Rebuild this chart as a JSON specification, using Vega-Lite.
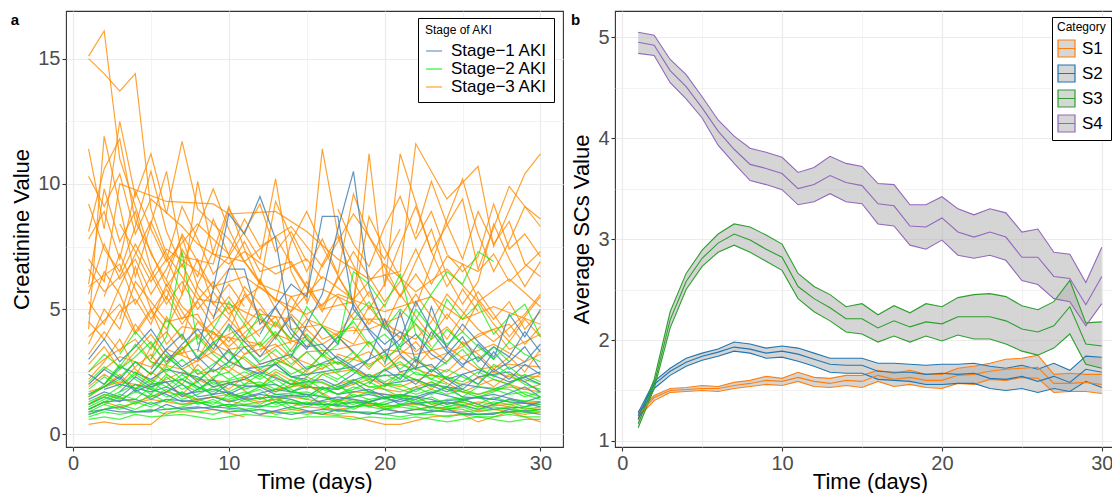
{
"$schema": "https://vega.github.io/schema/vega-lite/v6.json",
"padding": {"left": 10, "top": 10, "right": 0, "bottom": 0},
"config": {
 "font": "Liberation Sans",
 "view": {"stroke": "#333333", "strokeWidth": 1.1},
 "axis": {"domain": false, "labelFontSize": 20, "labelColor": "#4D4D4D", "titleFontSize": 22, "titleFontWeight": "normal", "titleColor": "#000000", "tickColor": "#333333", "tickSize": 4, "tickWidth": 1.1, "gridColor": "#EBEBEB", "labelPadding": 2, "titlePadding": 4},
 "axisX": {"titlePadding": -2}
},
"spacing": 6,
"resolve": {"scale": {"color": "independent"}, "legend": {"color": "independent"}},
"datasets": {
"s3": [
{"p":1,"t":1,"v":15.1},{"p":1,"t":2,"v":16.1},{"p":1,"t":3,"v":11.0},{"p":1,"t":5,"v":7.2},{"p":1,"t":7,"v":5.1},{"p":1,"t":9,"v":4.0},{"p":1,"t":12,"v":3.6},
{"p":2,"t":1,"v":15.0},{"p":2,"t":2,"v":14.4},{"p":2,"t":3,"v":13.7},{"p":2,"t":4,"v":14.4},{"p":2,"t":5,"v":9.0},{"p":2,"t":6,"v":7.2},{"p":2,"t":8,"v":5.4},{"p":2,"t":10,"v":5.2},{"p":2,"t":13,"v":4.3},
{"p":3,"t":1,"v":11.4},{"p":3,"t":2,"v":8.2},{"p":3,"t":3,"v":12.5},{"p":3,"t":4,"v":9.5},{"p":3,"t":5,"v":11.2},{"p":3,"t":6,"v":8.8},{"p":3,"t":7,"v":11.7},{"p":3,"t":8,"v":9.0},{"p":3,"t":10,"v":7.8},{"p":3,"t":12,"v":6.0},{"p":3,"t":14,"v":5.5},{"p":3,"t":16,"v":5.8},{"p":3,"t":18,"v":5.2},
{"p":4,"t":1,"v":4.2},{"p":4,"t":2,"v":11.9},{"p":4,"t":3,"v":9.1},{"p":4,"t":4,"v":6.3},{"p":4,"t":6,"v":10.5},{"p":4,"t":7,"v":7.1},{"p":4,"t":9,"v":6.8},{"p":4,"t":10,"v":9.0},{"p":4,"t":12,"v":7.0},{"p":4,"t":13,"v":10.2},{"p":4,"t":14,"v":6.5},{"p":4,"t":15,"v":5.3},{"p":4,"t":16,"v":11.4},{"p":4,"t":17,"v":8.0},{"p":4,"t":19,"v":5.5},
{"p":5,"t":1,"v":7.0},{"p":5,"t":2,"v":6.1},{"p":5,"t":3,"v":10.0},{"p":5,"t":6,"v":9.3},{"p":5,"t":9,"v":9.2},{"p":5,"t":10,"v":8.8},{"p":5,"t":13,"v":8.9},{"p":5,"t":15,"v":8.1},{"p":5,"t":17,"v":7.0},{"p":5,"t":19,"v":6.2},{"p":5,"t":21,"v":6.5},{"p":5,"t":22,"v":11.6},{"p":5,"t":24,"v":9.4},{"p":5,"t":26,"v":10.7},{"p":5,"t":27,"v":7.5},{"p":5,"t":29,"v":10.4},{"p":5,"t":30,"v":11.2},
{"p":6,"t":1,"v":5.3},{"p":6,"t":2,"v":4.4},{"p":6,"t":3,"v":5.9},{"p":6,"t":4,"v":7.2},{"p":6,"t":5,"v":8.5},{"p":6,"t":7,"v":5.6},{"p":6,"t":8,"v":10.1},{"p":6,"t":9,"v":7.2},{"p":6,"t":11,"v":6.9},{"p":6,"t":13,"v":5.3},{"p":6,"t":14,"v":7.7},{"p":6,"t":15,"v":8.9},{"p":6,"t":16,"v":7.5},{"p":6,"t":18,"v":5.2},{"p":6,"t":19,"v":11.2},{"p":6,"t":20,"v":5.9},{"p":6,"t":21,"v":11.2},{"p":6,"t":23,"v":7.3},{"p":6,"t":25,"v":9.4},{"p":6,"t":26,"v":6.6},{"p":6,"t":28,"v":9.9},{"p":6,"t":30,"v":8.3},
{"p":7,"t":1,"v":3.6},{"p":7,"t":2,"v":5.0},{"p":7,"t":3,"v":4.2},{"p":7,"t":4,"v":6.1},{"p":7,"t":5,"v":5.3},{"p":7,"t":6,"v":4.5},{"p":7,"t":8,"v":4.8},{"p":7,"t":9,"v":3.7},{"p":7,"t":11,"v":4.3},{"p":7,"t":12,"v":5.0},{"p":7,"t":14,"v":3.8},{"p":7,"t":15,"v":4.6},{"p":7,"t":17,"v":4.1},{"p":7,"t":19,"v":4.2},{"p":7,"t":21,"v":4.7},{"p":7,"t":22,"v":5.6},{"p":7,"t":24,"v":3.8},{"p":7,"t":26,"v":5.7},{"p":7,"t":28,"v":3.9},{"p":7,"t":30,"v":5.5},
{"p":8,"t":1,"v":2.8},{"p":8,"t":2,"v":3.5},{"p":8,"t":3,"v":2.6},{"p":8,"t":4,"v":3.3},{"p":8,"t":5,"v":4.0},{"p":8,"t":6,"v":3.1},{"p":8,"t":8,"v":3.4},{"p":8,"t":10,"v":2.5},{"p":8,"t":11,"v":3.2},{"p":8,"t":13,"v":3.6},{"p":8,"t":15,"v":2.5},{"p":8,"t":17,"v":3.9},{"p":8,"t":19,"v":2.6},{"p":8,"t":20,"v":3.4},{"p":8,"t":22,"v":3.2},{"p":8,"t":24,"v":3.5},{"p":8,"t":26,"v":2.6},{"p":8,"t":28,"v":2.8},{"p":8,"t":30,"v":2.7},
{"p":9,"t":1,"v":0.4},{"p":9,"t":2,"v":0.5},{"p":9,"t":3,"v":0.4},{"p":9,"t":5,"v":0.4},{"p":9,"t":6,"v":0.9},{"p":9,"t":8,"v":0.9},{"p":9,"t":9,"v":1.0},{"p":9,"t":11,"v":0.7},
{"p":10,"t":12,"v":0.8},{"p":10,"t":14,"v":1.0},{"p":10,"t":16,"v":0.8},{"p":10,"t":18,"v":0.7},{"p":10,"t":20,"v":0.4},{"p":10,"t":21,"v":0.4},{"p":10,"t":23,"v":0.7},{"p":10,"t":25,"v":0.8},{"p":10,"t":26,"v":0.5},{"p":10,"t":28,"v":0.9},{"p":10,"t":30,"v":0.5},
{"p":11,"t":1,"v":9.2},{"p":11,"t":2,"v":7.4},{"p":11,"t":3,"v":6.5},{"p":11,"t":4,"v":8.3},{"p":11,"t":5,"v":10.5},{"p":11,"t":6,"v":8.1},{"p":11,"t":7,"v":6.7},{"p":11,"t":9,"v":9.8},{"p":11,"t":10,"v":8.2},{"p":11,"t":11,"v":6.9},{"p":11,"t":13,"v":7.9},{"p":11,"t":14,"v":6.8},{"p":11,"t":16,"v":4.9},{"p":11,"t":17,"v":6.3},{"p":11,"t":19,"v":4.4},{"p":11,"t":20,"v":5.2},
{"p":12,"t":1,"v":6.0},{"p":12,"t":2,"v":9.8},{"p":12,"t":3,"v":7.7},{"p":12,"t":4,"v":8.9},{"p":12,"t":5,"v":6.6},{"p":12,"t":6,"v":5.4},{"p":12,"t":7,"v":7.4},{"p":12,"t":8,"v":6.3},{"p":12,"t":9,"v":8.6},{"p":12,"t":11,"v":5.7},{"p":12,"t":12,"v":4.8},{"p":12,"t":14,"v":4.6},{"p":12,"t":15,"v":3.9},
{"p":13,"t":5,"v":3.0},{"p":13,"t":6,"v":4.7},{"p":13,"t":7,"v":3.8},{"p":13,"t":8,"v":6.0},{"p":13,"t":9,"v":7.3},{"p":13,"t":10,"v":9.1},{"p":13,"t":11,"v":7.4},{"p":13,"t":12,"v":6.0},{"p":13,"t":13,"v":9.3},{"p":13,"t":15,"v":6.5},{"p":13,"t":16,"v":7.8},{"p":13,"t":17,"v":6.4},{"p":13,"t":18,"v":9.6},{"p":13,"t":19,"v":7.9},{"p":13,"t":21,"v":5.5},{"p":13,"t":22,"v":6.4},{"p":13,"t":24,"v":4.6},{"p":13,"t":25,"v":5.8},{"p":13,"t":26,"v":4.9},
{"p":14,"t":10,"v":4.1},{"p":14,"t":11,"v":5.6},{"p":14,"t":13,"v":3.8},{"p":14,"t":15,"v":6.1},{"p":14,"t":16,"v":5.0},{"p":14,"t":18,"v":5.3},{"p":14,"t":19,"v":8.7},{"p":14,"t":20,"v":7.4},{"p":14,"t":22,"v":5.1},{"p":14,"t":23,"v":6.8},{"p":14,"t":24,"v":8.6},{"p":14,"t":25,"v":10.2},{"p":14,"t":26,"v":8.0},{"p":14,"t":27,"v":6.5},{"p":14,"t":28,"v":7.7},{"p":14,"t":29,"v":9.1},{"p":14,"t":30,"v":8.6},
{"p":15,"t":1,"v":2.2},{"p":15,"t":2,"v":2.9},{"p":15,"t":3,"v":3.8},{"p":15,"t":4,"v":2.6},{"p":15,"t":5,"v":2.1},{"p":15,"t":7,"v":3.5},{"p":15,"t":8,"v":2.4},{"p":15,"t":10,"v":2.7},{"p":15,"t":12,"v":1.9},{"p":15,"t":13,"v":2.5},{"p":15,"t":15,"v":1.8},{"p":15,"t":16,"v":2.4},{"p":15,"t":18,"v":2.6},{"p":15,"t":20,"v":1.9},{"p":15,"t":21,"v":2.5},{"p":15,"t":23,"v":1.8},{"p":15,"t":24,"v":2.3},{"p":15,"t":25,"v":2.7},{"p":15,"t":27,"v":1.9},{"p":15,"t":28,"v":2.4},{"p":15,"t":30,"v":2.3},
{"p":16,"t":1,"v":4.8},{"p":16,"t":2,"v":6.5},{"p":16,"t":3,"v":5.6},{"p":16,"t":4,"v":4.1},{"p":16,"t":5,"v":5.0},{"p":16,"t":6,"v":3.6},{"p":16,"t":7,"v":4.3},{"p":16,"t":9,"v":4.1},{"p":16,"t":10,"v":3.4},{"p":16,"t":12,"v":3.6},{"p":16,"t":14,"v":2.7},{"p":16,"t":15,"v":3.3},{"p":16,"t":17,"v":3.4},{"p":16,"t":19,"v":3.7},{"p":16,"t":20,"v":3.0},
{"p":17,"t":15,"v":5.2},{"p":17,"t":16,"v":6.8},{"p":17,"t":17,"v":7.9},{"p":17,"t":18,"v":6.1},{"p":17,"t":19,"v":5.0},{"p":17,"t":20,"v":6.0},{"p":17,"t":21,"v":7.6},{"p":17,"t":22,"v":9.1},{"p":17,"t":23,"v":7.3},{"p":17,"t":24,"v":5.9},{"p":17,"t":25,"v":6.8},{"p":17,"t":26,"v":5.4},{"p":17,"t":27,"v":4.6},{"p":17,"t":28,"v":5.3},{"p":17,"t":29,"v":4.2},{"p":17,"t":30,"v":4.9},
{"p":18,"t":1,"v":8.1},{"p":18,"t":2,"v":10.6},{"p":18,"t":3,"v":11.8},{"p":18,"t":4,"v":8.5},{"p":18,"t":5,"v":7.3},{"p":18,"t":6,"v":5.9},{"p":18,"t":7,"v":6.8},{"p":18,"t":8,"v":5.6},{"p":18,"t":9,"v":4.7},{"p":18,"t":10,"v":5.5},{"p":18,"t":11,"v":4.6},{"p":18,"t":12,"v":3.9},
{"p":19,"t":18,"v":4.0},{"p":19,"t":19,"v":5.1},{"p":19,"t":20,"v":4.3},{"p":19,"t":21,"v":5.6},{"p":19,"t":22,"v":4.7},{"p":19,"t":23,"v":3.9},{"p":19,"t":24,"v":4.8},{"p":19,"t":25,"v":4.1},{"p":19,"t":26,"v":5.3},{"p":19,"t":27,"v":4.4},{"p":19,"t":28,"v":3.7},{"p":19,"t":29,"v":4.6},{"p":19,"t":30,"v":3.9},
{"p":20,"t":1,"v":1.5},{"p":20,"t":2,"v":1.9},{"p":20,"t":3,"v":2.4},{"p":20,"t":4,"v":1.8},{"p":20,"t":5,"v":2.5},{"p":20,"t":7,"v":1.6},{"p":20,"t":8,"v":2.2},{"p":20,"t":10,"v":2.1},{"p":20,"t":12,"v":1.4},{"p":20,"t":13,"v":1.8},{"p":20,"t":15,"v":2.0},{"p":20,"t":17,"v":1.3},{"p":20,"t":18,"v":1.7},{"p":20,"t":20,"v":1.6},{"p":20,"t":22,"v":1.5},{"p":20,"t":23,"v":1.2},{"p":20,"t":25,"v":1.3},{"p":20,"t":26,"v":1.1},{"p":20,"t":28,"v":1.2},{"p":20,"t":30,"v":1.3},
{"p":21,"t":2,"v":5.5},{"p":21,"t":3,"v":7.2},{"p":21,"t":4,"v":5.8},{"p":21,"t":5,"v":4.6},{"p":21,"t":6,"v":5.5},{"p":21,"t":7,"v":4.4},{"p":21,"t":8,"v":5.3},{"p":21,"t":9,"v":4.3},{"p":21,"t":10,"v":3.7},{"p":21,"t":11,"v":4.4},{"p":21,"t":12,"v":6.2},{"p":21,"t":13,"v":5.0},{"p":21,"t":14,"v":4.2},{"p":21,"t":16,"v":4.4},{"p":21,"t":17,"v":5.5},{"p":21,"t":18,"v":4.6},{"p":21,"t":20,"v":4.6},{"p":21,"t":21,"v":3.8},{"p":21,"t":22,"v":4.4},{"p":21,"t":23,"v":3.5},
{"p":22,"t":20,"v":2.5},{"p":22,"t":21,"v":3.1},{"p":22,"t":22,"v":2.7},{"p":22,"t":23,"v":3.4},{"p":22,"t":24,"v":2.9},{"p":22,"t":25,"v":3.7},{"p":22,"t":26,"v":3.2},{"p":22,"t":27,"v":2.6},{"p":22,"t":28,"v":3.1},{"p":22,"t":29,"v":2.5},{"p":22,"t":30,"v":3.4},
{"p":23,"t":6,"v":6.2},{"p":23,"t":7,"v":8.0},{"p":23,"t":8,"v":6.9},{"p":23,"t":9,"v":5.8},{"p":23,"t":10,"v":6.6},{"p":23,"t":11,"v":7.7},{"p":23,"t":12,"v":6.5},{"p":23,"t":14,"v":6.9},{"p":23,"t":15,"v":5.9},{"p":23,"t":16,"v":5.1},{"p":23,"t":17,"v":6.2},{"p":23,"t":18,"v":7.3},{"p":23,"t":20,"v":5.3},{"p":23,"t":21,"v":6.1},{"p":23,"t":22,"v":7.4},{"p":23,"t":23,"v":6.0},{"p":23,"t":24,"v":7.1},{"p":23,"t":26,"v":6.5},{"p":23,"t":27,"v":7.2},{"p":23,"t":28,"v":6.1},{"p":23,"t":30,"v":7.3},
{"p":24,"t":1,"v":3.2},{"p":24,"t":2,"v":4.1},{"p":24,"t":3,"v":3.3},{"p":24,"t":4,"v":4.4},{"p":24,"t":5,"v":3.6},{"p":24,"t":6,"v":2.9},{"p":24,"t":7,"v":3.4},{"p":24,"t":8,"v":4.0},{"p":24,"t":9,"v":3.3},{"p":24,"t":10,"v":3.9},{"p":24,"t":11,"v":3.2},{"p":24,"t":12,"v":3.7},{"p":24,"t":13,"v":2.8},{"p":24,"t":14,"v":3.4},{"p":24,"t":15,"v":4.2},
{"p":25,"t":22,"v":8.0},{"p":25,"t":23,"v":10.1},{"p":25,"t":24,"v":8.4},{"p":25,"t":25,"v":7.0},{"p":25,"t":26,"v":8.9},{"p":25,"t":27,"v":7.6},{"p":25,"t":28,"v":8.5},{"p":25,"t":29,"v":6.8},{"p":25,"t":30,"v":6.3},
{"p":26,"t":1,"v":5.9},{"p":26,"t":3,"v":6.8},{"p":26,"t":4,"v":5.2},{"p":26,"t":6,"v":7.4},{"p":26,"t":8,"v":6.5},{"p":26,"t":9,"v":5.9},{"p":26,"t":11,"v":6.3},{"p":26,"t":13,"v":5.4},{"p":26,"t":15,"v":4.8},{"p":26,"t":17,"v":5.6},{"p":26,"t":20,"v":4.9},{"p":26,"t":23,"v":5.5},{"p":26,"t":25,"v":4.6},{"p":26,"t":27,"v":5.1},{"p":26,"t":30,"v":4.4},
{"p":27,"t":1,"v":2.5},{"p":27,"t":2,"v":3.0},{"p":27,"t":4,"v":3.8},{"p":27,"t":5,"v":2.9},{"p":27,"t":7,"v":2.6},{"p":27,"t":9,"v":3.3},{"p":27,"t":11,"v":2.6},{"p":27,"t":13,"v":3.0},{"p":27,"t":15,"v":2.4},{"p":27,"t":17,"v":2.9},{"p":27,"t":19,"v":2.3},{"p":27,"t":21,"v":2.8},{"p":27,"t":23,"v":2.4},{"p":27,"t":25,"v":2.0},{"p":27,"t":27,"v":2.5},{"p":27,"t":29,"v":2.1},{"p":27,"t":30,"v":2.4},
{"p":28,"t":1,"v":1.0},{"p":28,"t":2,"v":1.3},{"p":28,"t":3,"v":1.1},{"p":28,"t":5,"v":1.4},{"p":28,"t":7,"v":1.2},{"p":28,"t":9,"v":1.5},{"p":28,"t":11,"v":1.2},{"p":28,"t":13,"v":1.4},{"p":28,"t":15,"v":1.1},{"p":28,"t":17,"v":1.0},{"p":28,"t":19,"v":1.2},{"p":28,"t":21,"v":0.9},{"p":28,"t":23,"v":1.1},{"p":28,"t":25,"v":0.9},{"p":28,"t":27,"v":1.0},{"p":28,"t":29,"v":0.8},{"p":28,"t":30,"v":0.9},
{"p":29,"t":3,"v":4.6},{"p":29,"t":4,"v":6.7},{"p":29,"t":5,"v":5.0},{"p":29,"t":6,"v":4.2},{"p":29,"t":7,"v":5.6},{"p":29,"t":8,"v":7.0},{"p":29,"t":9,"v":5.2},{"p":29,"t":10,"v":4.6},{"p":29,"t":11,"v":5.9},{"p":29,"t":12,"v":5.2},{"p":29,"t":13,"v":4.3},{"p":29,"t":14,"v":5.5},{"p":29,"t":16,"v":3.8},{"p":29,"t":18,"v":4.3},{"p":29,"t":19,"v":3.5},
{"p":30,"t":8,"v":3.0},{"p":30,"t":9,"v":4.1},{"p":30,"t":10,"v":3.5},{"p":30,"t":12,"v":4.6},{"p":30,"t":13,"v":3.9},{"p":30,"t":14,"v":4.8},{"p":30,"t":16,"v":3.6},{"p":30,"t":17,"v":4.0},{"p":30,"t":19,"v":5.7},{"p":30,"t":20,"v":4.4},{"p":30,"t":22,"v":3.8},{"p":30,"t":23,"v":4.5},{"p":30,"t":24,"v":5.6},{"p":30,"t":26,"v":4.2},{"p":30,"t":27,"v":3.7},{"p":30,"t":29,"v":4.8},{"p":30,"t":30,"v":5.6},
{"p":31,"t":1,"v":6.6},{"p":31,"t":2,"v":5.7},{"p":31,"t":3,"v":6.3},{"p":31,"t":4,"v":7.6},{"p":31,"t":5,"v":6.4},{"p":31,"t":6,"v":5.2},{"p":31,"t":7,"v":6.1},{"p":31,"t":8,"v":5.0},{"p":31,"t":9,"v":5.7},{"p":31,"t":10,"v":4.8},{"p":31,"t":11,"v":5.4},
{"p":32,"t":1,"v":1.9},{"p":32,"t":2,"v":2.4},{"p":32,"t":3,"v":2.0},{"p":32,"t":4,"v":2.7},{"p":32,"t":5,"v":3.2},{"p":32,"t":6,"v":2.4},{"p":32,"t":7,"v":2.0},{"p":32,"t":8,"v":2.8},{"p":32,"t":9,"v":2.2},{"p":32,"t":10,"v":1.8},{"p":32,"t":11,"v":2.3},{"p":32,"t":12,"v":2.6},{"p":32,"t":14,"v":2.0},{"p":32,"t":16,"v":1.8},{"p":32,"t":18,"v":2.2},{"p":32,"t":19,"v":1.9},{"p":32,"t":21,"v":1.7},{"p":32,"t":23,"v":2.1},{"p":32,"t":24,"v":1.8},{"p":32,"t":26,"v":1.6},{"p":32,"t":28,"v":1.9},{"p":32,"t":30,"v":1.7},
{"p":33,"t":1,"v":3.9},{"p":33,"t":3,"v":5.2},{"p":33,"t":4,"v":4.0},{"p":33,"t":6,"v":5.8},{"p":33,"t":7,"v":4.6},{"p":33,"t":9,"v":6.1},{"p":33,"t":10,"v":5.0},{"p":33,"t":12,"v":5.9},{"p":33,"t":14,"v":4.9},{"p":33,"t":16,"v":6.3},{"p":33,"t":18,"v":5.4},{"p":33,"t":20,"v":6.8},{"p":33,"t":22,"v":5.7},{"p":33,"t":24,"v":6.6},{"p":33,"t":26,"v":5.3},{"p":33,"t":28,"v":6.2},{"p":33,"t":30,"v":5.1},
{"p":34,"t":1,"v":7.8},{"p":34,"t":2,"v":8.9},{"p":34,"t":3,"v":7.0},{"p":34,"t":4,"v":9.7},{"p":34,"t":5,"v":8.2},{"p":34,"t":6,"v":6.9},{"p":34,"t":8,"v":8.4},{"p":34,"t":10,"v":7.2},{"p":34,"t":11,"v":8.6},{"p":34,"t":12,"v":7.5},{"p":34,"t":14,"v":8.3},{"p":34,"t":16,"v":6.7},{"p":34,"t":17,"v":7.7},{"p":34,"t":18,"v":8.8},{"p":34,"t":20,"v":7.0},{"p":34,"t":21,"v":8.2},
{"p":35,"t":1,"v":4.5},{"p":35,"t":2,"v":3.8},{"p":35,"t":3,"v":4.9},{"p":35,"t":4,"v":5.4},{"p":35,"t":5,"v":4.4},{"p":35,"t":6,"v":6.0},{"p":35,"t":7,"v":4.9},{"p":35,"t":8,"v":3.9},{"p":35,"t":9,"v":4.5},{"p":35,"t":10,"v":5.1},{"p":35,"t":11,"v":3.8},{"p":35,"t":12,"v":4.2},{"p":35,"t":13,"v":4.7},{"p":35,"t":14,"v":3.6},
{"p":36,"t":12,"v":3.3},{"p":36,"t":13,"v":4.0},{"p":36,"t":15,"v":3.5},{"p":36,"t":16,"v":4.3},{"p":36,"t":18,"v":3.6},{"p":36,"t":19,"v":4.6},{"p":36,"t":21,"v":3.9},{"p":36,"t":22,"v":3.3},{"p":36,"t":24,"v":4.3},{"p":36,"t":25,"v":3.6},{"p":36,"t":27,"v":4.2},{"p":36,"t":28,"v":3.4},{"p":36,"t":30,"v":4.0},
{"p":37,"t":1,"v":10.3},{"p":37,"t":2,"v":9.1},{"p":37,"t":3,"v":10.4},{"p":37,"t":4,"v":8.0},{"p":37,"t":5,"v":9.4},{"p":37,"t":7,"v":8.3},{"p":37,"t":8,"v":7.6},{"p":37,"t":10,"v":6.8},{"p":37,"t":11,"v":7.3},{"p":37,"t":13,"v":6.4},{"p":37,"t":15,"v":7.0},{"p":37,"t":16,"v":6.2},
{"p":38,"t":1,"v":2.0},{"p":38,"t":2,"v":2.6},{"p":38,"t":3,"v":3.1},{"p":38,"t":5,"v":2.7},{"p":38,"t":6,"v":3.4},{"p":38,"t":8,"v":2.9},{"p":38,"t":9,"v":3.6},{"p":38,"t":11,"v":3.0},{"p":38,"t":12,"v":2.5},{"p":38,"t":14,"v":3.1},{"p":38,"t":16,"v":2.6},{"p":38,"t":17,"v":3.2},{"p":38,"t":19,"v":2.8},{"p":38,"t":21,"v":3.4},{"p":38,"t":22,"v":2.9},{"p":38,"t":24,"v":2.5},{"p":38,"t":25,"v":3.1},{"p":38,"t":27,"v":3.6},{"p":38,"t":29,"v":2.9},{"p":38,"t":30,"v":3.2},
{"p":39,"t":20,"v":6.4},{"p":39,"t":21,"v":5.5},{"p":39,"t":22,"v":6.9},{"p":39,"t":23,"v":8.2},{"p":39,"t":24,"v":6.3},{"p":39,"t":25,"v":5.2},{"p":39,"t":26,"v":6.1},{"p":39,"t":27,"v":8.4},{"p":39,"t":28,"v":7.0},{"p":39,"t":29,"v":5.9},{"p":39,"t":30,"v":6.9},
{"p":40,"t":1,"v":1.2},{"p":40,"t":2,"v":1.6},{"p":40,"t":4,"v":1.3},{"p":40,"t":6,"v":1.7},{"p":40,"t":8,"v":1.4},{"p":40,"t":10,"v":1.6},{"p":40,"t":12,"v":1.3},{"p":40,"t":14,"v":1.5},{"p":40,"t":16,"v":1.3},{"p":40,"t":18,"v":1.4},{"p":40,"t":20,"v":1.1},{"p":40,"t":22,"v":1.2},{"p":40,"t":24,"v":1.0},{"p":40,"t":26,"v":1.3},{"p":40,"t":28,"v":1.1},{"p":40,"t":30,"v":1.0},
{"p":41,"t":3,"v":8.4},{"p":41,"t":4,"v":7.3},{"p":41,"t":5,"v":6.1},{"p":41,"t":6,"v":7.0},{"p":41,"t":7,"v":9.1},{"p":41,"t":8,"v":7.8},{"p":41,"t":9,"v":6.4},{"p":41,"t":10,"v":7.1},{"p":41,"t":11,"v":8.1},{"p":41,"t":12,"v":9.2},{"p":41,"t":13,"v":7.3},{"p":41,"t":14,"v":8.1},{"p":41,"t":15,"v":6.9},
{"p":42,"t":4,"v":2.3},{"p":42,"t":5,"v":3.5},{"p":42,"t":6,"v":4.1},{"p":42,"t":7,"v":3.2},{"p":42,"t":8,"v":4.5},{"p":42,"t":9,"v":3.8},{"p":42,"t":10,"v":4.6},{"p":42,"t":11,"v":3.9},{"p":42,"t":12,"v":3.1},{"p":42,"t":13,"v":3.5},{"p":42,"t":15,"v":3.9},{"p":42,"t":16,"v":3.2},{"p":42,"t":17,"v":2.8},{"p":42,"t":19,"v":3.3},{"p":42,"t":20,"v":2.7},{"p":42,"t":22,"v":3.7},{"p":42,"t":23,"v":3.0},{"p":42,"t":25,"v":3.5},{"p":42,"t":26,"v":4.0},{"p":42,"t":28,"v":4.4},{"p":42,"t":29,"v":3.6},{"p":42,"t":30,"v":4.3},
{"p":43,"t":1,"v":5.6},{"p":43,"t":2,"v":7.6},{"p":43,"t":3,"v":6.2},{"p":43,"t":4,"v":7.0},{"p":43,"t":5,"v":5.6},{"p":43,"t":6,"v":6.6},{"p":43,"t":7,"v":7.9},{"p":43,"t":8,"v":5.9},{"p":43,"t":9,"v":5.2},{"p":43,"t":10,"v":6.0},{"p":43,"t":11,"v":5.1},
{"p":44,"t":17,"v":9.0},{"p":44,"t":18,"v":7.6},{"p":44,"t":19,"v":6.7},{"p":44,"t":20,"v":8.3},{"p":44,"t":21,"v":9.5},{"p":44,"t":22,"v":7.8},{"p":44,"t":23,"v":8.9},{"p":44,"t":24,"v":7.2},{"p":44,"t":25,"v":6.5},{"p":44,"t":26,"v":7.1},{"p":44,"t":27,"v":9.2},{"p":44,"t":28,"v":7.4},{"p":44,"t":29,"v":8.0},{"p":44,"t":30,"v":7.1},
{"p":45,"t":1,"v":1.7},{"p":45,"t":3,"v":2.1},{"p":45,"t":5,"v":1.9},{"p":45,"t":7,"v":2.5},{"p":45,"t":9,"v":1.9},{"p":45,"t":11,"v":2.2},{"p":45,"t":13,"v":1.7},{"p":45,"t":15,"v":2.3},{"p":45,"t":17,"v":1.8},{"p":45,"t":19,"v":2.2},{"p":45,"t":21,"v":1.9},{"p":45,"t":23,"v":2.4},{"p":45,"t":25,"v":1.7},{"p":45,"t":27,"v":2.2},{"p":45,"t":29,"v":1.8},{"p":45,"t":30,"v":2.0}
],
"s1": [
{"p":1,"t":1,"v":1.2},{"p":1,"t":2,"v":1.5},{"p":1,"t":3,"v":1.3},{"p":1,"t":4,"v":1.8},{"p":1,"t":5,"v":1.4},{"p":1,"t":7,"v":2.0},{"p":1,"t":8,"v":1.5},{"p":1,"t":10,"v":1.7},{"p":1,"t":11,"v":1.4},{"p":1,"t":13,"v":1.5},{"p":1,"t":15,"v":1.6},{"p":1,"t":16,"v":1.2},{"p":1,"t":18,"v":1.1},{"p":1,"t":20,"v":1.5},{"p":1,"t":21,"v":1.2},{"p":1,"t":23,"v":1.3},{"p":1,"t":25,"v":1.4},{"p":1,"t":27,"v":1.0},{"p":1,"t":29,"v":1.1},{"p":1,"t":30,"v":1.3},
{"p":2,"t":1,"v":2.0},{"p":2,"t":2,"v":2.6},{"p":2,"t":3,"v":2.2},{"p":2,"t":4,"v":2.9},{"p":2,"t":5,"v":2.4},{"p":2,"t":6,"v":3.1},{"p":2,"t":8,"v":2.1},{"p":2,"t":9,"v":2.7},{"p":2,"t":10,"v":3.4},{"p":2,"t":11,"v":2.6},{"p":2,"t":13,"v":2.8},{"p":2,"t":14,"v":2.3},{"p":2,"t":16,"v":2.5},{"p":2,"t":18,"v":2.7},{"p":2,"t":19,"v":2.3},{"p":2,"t":21,"v":2.4},{"p":2,"t":22,"v":2.0},{"p":2,"t":23,"v":2.6},{"p":2,"t":25,"v":1.8},{"p":2,"t":26,"v":2.3},{"p":2,"t":28,"v":2.5},{"p":2,"t":30,"v":1.7},
{"p":3,"t":8,"v":3.3},{"p":3,"t":9,"v":5.8},{"p":3,"t":10,"v":8.8},{"p":3,"t":11,"v":8.0},{"p":3,"t":12,"v":9.5},{"p":3,"t":13,"v":7.8},{"p":3,"t":14,"v":4.2},{"p":3,"t":15,"v":3.5},{"p":3,"t":16,"v":3.6},{"p":3,"t":17,"v":3.0},{"p":3,"t":18,"v":2.6},
{"p":4,"t":12,"v":4.0},{"p":4,"t":13,"v":5.1},{"p":4,"t":14,"v":6.0},{"p":4,"t":15,"v":5.5},{"p":4,"t":16,"v":8.7},{"p":4,"t":17,"v":8.7},{"p":4,"t":18,"v":5.0},{"p":4,"t":19,"v":4.2},{"p":4,"t":20,"v":3.6},{"p":4,"t":21,"v":4.1},{"p":4,"t":22,"v":3.4},
{"p":5,"t":14,"v":3.1},{"p":5,"t":15,"v":4.4},{"p":5,"t":16,"v":5.6},{"p":5,"t":17,"v":8.2},{"p":5,"t":18,"v":10.5},{"p":5,"t":19,"v":5.9},{"p":5,"t":20,"v":4.3},{"p":5,"t":21,"v":3.5},{"p":5,"t":22,"v":4.0},{"p":5,"t":23,"v":3.2},{"p":5,"t":24,"v":2.8},
{"p":6,"t":1,"v":0.8},{"p":6,"t":2,"v":1.0},{"p":6,"t":3,"v":0.9},{"p":6,"t":5,"v":0.9},{"p":6,"t":6,"v":1.2},{"p":6,"t":7,"v":1.0},{"p":6,"t":9,"v":1.1},{"p":6,"t":11,"v":1.0},{"p":6,"t":12,"v":0.8},{"p":6,"t":14,"v":1.1},{"p":6,"t":16,"v":0.8},{"p":6,"t":17,"v":1.0},{"p":6,"t":19,"v":0.8},{"p":6,"t":20,"v":1.0},{"p":6,"t":22,"v":0.8},{"p":6,"t":24,"v":1.0},{"p":6,"t":25,"v":0.8},{"p":6,"t":27,"v":0.8},{"p":6,"t":28,"v":1.0},{"p":6,"t":30,"v":0.8},
{"p":7,"t":1,"v":1.6},{"p":7,"t":2,"v":1.9},{"p":7,"t":3,"v":2.3},{"p":7,"t":4,"v":1.7},{"p":7,"t":5,"v":2.0},{"p":7,"t":7,"v":2.2},{"p":7,"t":8,"v":1.9},{"p":7,"t":9,"v":1.6},{"p":7,"t":10,"v":2.0},{"p":7,"t":12,"v":1.9},{"p":7,"t":13,"v":1.6},{"p":7,"t":15,"v":1.5},{"p":7,"t":16,"v":1.9},{"p":7,"t":17,"v":1.6},{"p":7,"t":19,"v":1.8},{"p":7,"t":20,"v":1.5},{"p":7,"t":22,"v":1.4},{"p":7,"t":24,"v":1.9},{"p":7,"t":25,"v":1.5},{"p":7,"t":27,"v":1.4},{"p":7,"t":29,"v":1.9},{"p":7,"t":30,"v":1.5},
{"p":8,"t":20,"v":2.8},{"p":8,"t":21,"v":4.9},{"p":8,"t":22,"v":2.9},{"p":8,"t":23,"v":4.1},{"p":8,"t":24,"v":3.3},{"p":8,"t":25,"v":2.7},{"p":8,"t":26,"v":3.6},{"p":8,"t":27,"v":3.0},{"p":8,"t":28,"v":4.8},{"p":8,"t":29,"v":3.9},{"p":8,"t":30,"v":5.0},
{"p":9,"t":1,"v":3.0},{"p":9,"t":2,"v":3.8},{"p":9,"t":3,"v":2.9},{"p":9,"t":4,"v":3.5},{"p":9,"t":5,"v":4.2},{"p":9,"t":6,"v":3.3},{"p":9,"t":7,"v":2.7},{"p":9,"t":8,"v":3.1},{"p":9,"t":9,"v":2.5},{"p":9,"t":10,"v":2.9},{"p":9,"t":12,"v":2.4},{"p":9,"t":13,"v":2.8},{"p":9,"t":14,"v":2.3},{"p":9,"t":15,"v":2.2},
{"p":10,"t":1,"v":1.0},{"p":10,"t":2,"v":1.3},{"p":10,"t":4,"v":1.4},{"p":10,"t":5,"v":1.2},{"p":10,"t":6,"v":1.4},{"p":10,"t":8,"v":1.3},{"p":10,"t":9,"v":1.1},{"p":10,"t":10,"v":1.2},{"p":10,"t":12,"v":1.1},{"p":10,"t":13,"v":1.3},{"p":10,"t":15,"v":1.2},{"p":10,"t":17,"v":1.2},{"p":10,"t":18,"v":1.3},{"p":10,"t":20,"v":1.2},{"p":10,"t":21,"v":1.4},{"p":10,"t":23,"v":1.1},{"p":10,"t":24,"v":1.3},{"p":10,"t":26,"v":1.0},{"p":10,"t":28,"v":1.4},{"p":10,"t":30,"v":1.1},
{"p":11,"t":9,"v":4.6},{"p":11,"t":10,"v":6.6},{"p":11,"t":11,"v":6.6},{"p":11,"t":12,"v":4.4},{"p":11,"t":13,"v":5.1},{"p":11,"t":14,"v":4.0},{"p":11,"t":15,"v":3.4},{"p":11,"t":16,"v":4.3},{"p":11,"t":17,"v":3.6},{"p":11,"t":18,"v":5.2},{"p":11,"t":19,"v":4.1},{"p":11,"t":20,"v":3.3},{"p":11,"t":21,"v":3.8},{"p":11,"t":22,"v":5.3},{"p":11,"t":23,"v":4.2},{"p":11,"t":24,"v":3.5},{"p":11,"t":25,"v":4.4},{"p":11,"t":26,"v":3.7},{"p":11,"t":27,"v":3.1},
{"p":12,"t":24,"v":1.9},{"p":12,"t":25,"v":2.4},{"p":12,"t":26,"v":2.0},{"p":12,"t":27,"v":2.6},{"p":12,"t":28,"v":2.2},{"p":12,"t":29,"v":2.8},{"p":12,"t":30,"v":2.4},
{"p":13,"t":3,"v":1.7},{"p":13,"t":4,"v":2.3},{"p":13,"t":5,"v":1.9},{"p":13,"t":6,"v":2.1},{"p":13,"t":7,"v":1.5},{"p":13,"t":8,"v":1.8},{"p":13,"t":9,"v":2.2},{"p":13,"t":10,"v":1.6},{"p":13,"t":11,"v":1.9},{"p":13,"t":13,"v":2.0},{"p":13,"t":14,"v":1.7},{"p":13,"t":15,"v":1.9},{"p":13,"t":17,"v":1.8},{"p":13,"t":18,"v":2.1},{"p":13,"t":19,"v":1.7},{"p":13,"t":21,"v":1.5},{"p":13,"t":22,"v":1.8},{"p":13,"t":23,"v":2.0},{"p":13,"t":25,"v":1.8},
{"p":14,"t":26,"v":2.4},{"p":14,"t":27,"v":3.3},{"p":14,"t":28,"v":2.6},{"p":14,"t":29,"v":2.9},{"p":14,"t":30,"v":3.6},
{"p":15,"t":5,"v":2.6},{"p":15,"t":6,"v":3.4},{"p":15,"t":7,"v":4.0},{"p":15,"t":8,"v":3.0},{"p":15,"t":9,"v":3.7},{"p":15,"t":10,"v":2.9},{"p":15,"t":11,"v":3.5},{"p":15,"t":12,"v":2.8},{"p":15,"t":14,"v":3.2},{"p":15,"t":15,"v":2.6},{"p":15,"t":17,"v":3.1},{"p":15,"t":18,"v":2.7},{"p":15,"t":20,"v":3.3},{"p":15,"t":21,"v":2.5},{"p":15,"t":23,"v":2.8},{"p":15,"t":24,"v":2.2},{"p":15,"t":26,"v":2.6},{"p":15,"t":28,"v":2.1},{"p":15,"t":30,"v":2.5},
{"p":16,"t":17,"v":2.0},{"p":16,"t":18,"v":2.4},{"p":16,"t":19,"v":3.0},{"p":16,"t":20,"v":4.6},{"p":16,"t":21,"v":3.2},{"p":16,"t":22,"v":2.6},{"p":16,"t":23,"v":5.1},{"p":16,"t":24,"v":3.4},{"p":16,"t":25,"v":2.8},{"p":16,"t":26,"v":3.1},{"p":16,"t":27,"v":2.5},{"p":16,"t":28,"v":2.9},{"p":16,"t":29,"v":3.5},{"p":16,"t":30,"v":2.6},
{"p":17,"t":1,"v":1.4},{"p":17,"t":2,"v":1.7},{"p":17,"t":3,"v":1.5},{"p":17,"t":4,"v":2.0},{"p":17,"t":6,"v":1.6},{"p":17,"t":7,"v":1.3},{"p":17,"t":9,"v":1.5},{"p":17,"t":10,"v":1.3},{"p":17,"t":12,"v":1.6},{"p":17,"t":14,"v":1.4},{"p":17,"t":15,"v":1.2},{"p":17,"t":17,"v":1.5},{"p":17,"t":19,"v":1.3},{"p":17,"t":21,"v":1.6},{"p":17,"t":23,"v":1.4},{"p":17,"t":24,"v":1.2},{"p":17,"t":26,"v":1.5},{"p":17,"t":28,"v":1.3},{"p":17,"t":30,"v":1.2},
{"p":18,"t":1,"v":2.4},{"p":18,"t":2,"v":2.0},{"p":18,"t":3,"v":2.7},{"p":18,"t":5,"v":2.2},{"p":18,"t":6,"v":2.6},{"p":18,"t":8,"v":2.3},{"p":18,"t":9,"v":1.9},{"p":18,"t":11,"v":2.2},{"p":18,"t":12,"v":2.5},{"p":18,"t":14,"v":2.0},{"p":18,"t":16,"v":2.2},{"p":18,"t":17,"v":1.9},{"p":18,"t":19,"v":2.4},{"p":18,"t":20,"v":2.0},{"p":18,"t":22,"v":2.2},{"p":18,"t":24,"v":1.7},{"p":18,"t":25,"v":2.0},{"p":18,"t":27,"v":1.8},{"p":18,"t":29,"v":2.3},{"p":18,"t":30,"v":2.0},
{"p":19,"t":1,"v":0.9},{"p":19,"t":3,"v":1.1},{"p":19,"t":4,"v":0.9},{"p":19,"t":6,"v":1.0},{"p":19,"t":8,"v":1.1},{"p":19,"t":10,"v":0.9},{"p":19,"t":12,"v":1.0},{"p":19,"t":14,"v":0.8},{"p":19,"t":16,"v":1.0},{"p":19,"t":18,"v":0.9},{"p":19,"t":20,"v":0.8},{"p":19,"t":22,"v":1.0},{"p":19,"t":24,"v":0.9},{"p":19,"t":26,"v":0.8},{"p":19,"t":28,"v":0.9},{"p":19,"t":30,"v":1.0},
{"p":20,"t":6,"v":2.9},{"p":20,"t":7,"v":3.6},{"p":20,"t":8,"v":4.2},{"p":20,"t":9,"v":3.4},{"p":20,"t":10,"v":4.4},{"p":20,"t":11,"v":3.7},{"p":20,"t":12,"v":3.1},{"p":20,"t":13,"v":3.9},{"p":20,"t":14,"v":4.7},{"p":20,"t":15,"v":3.8},{"p":20,"t":16,"v":3.2},{"p":20,"t":17,"v":3.9},{"p":20,"t":18,"v":3.3},
{"p":21,"t":19,"v":2.0},{"p":21,"t":20,"v":2.6},{"p":21,"t":21,"v":2.2},{"p":21,"t":22,"v":3.0},{"p":21,"t":23,"v":2.5},{"p":21,"t":24,"v":3.2},{"p":21,"t":25,"v":3.9},{"p":21,"t":26,"v":2.9},{"p":21,"t":27,"v":3.5},{"p":21,"t":28,"v":3.1},{"p":21,"t":29,"v":4.1},{"p":21,"t":30,"v":3.3},
{"p":22,"t":2,"v":1.8},{"p":22,"t":3,"v":2.0},{"p":22,"t":5,"v":1.7},{"p":22,"t":6,"v":1.9},{"p":22,"t":7,"v":1.6},{"p":22,"t":9,"v":1.8},{"p":22,"t":11,"v":1.5},{"p":22,"t":13,"v":1.8},{"p":22,"t":15,"v":1.6},{"p":22,"t":17,"v":1.4},{"p":22,"t":19,"v":1.6},{"p":22,"t":21,"v":1.3},{"p":22,"t":23,"v":1.7},{"p":22,"t":25,"v":1.4},{"p":22,"t":27,"v":1.6},{"p":22,"t":29,"v":1.3},{"p":22,"t":30,"v":1.5}
],
"s2": [
{"p":1,"t":1,"v":0.9},{"p":1,"t":2,"v":1.2},{"p":1,"t":3,"v":1.0},{"p":1,"t":4,"v":1.3},{"p":1,"t":5,"v":1.1},{"p":1,"t":6,"v":1.4},{"p":1,"t":7,"v":1.2},{"p":1,"t":9,"v":1.3},{"p":1,"t":10,"v":1.1},{"p":1,"t":11,"v":1.2},{"p":1,"t":13,"v":1.1},{"p":1,"t":14,"v":1.3},{"p":1,"t":16,"v":1.2},{"p":1,"t":17,"v":0.9},{"p":1,"t":18,"v":1.1},{"p":1,"t":20,"v":1.2},{"p":1,"t":22,"v":1.0},{"p":1,"t":23,"v":1.1},{"p":1,"t":25,"v":1.0},{"p":1,"t":26,"v":0.8},{"p":1,"t":28,"v":0.9},{"p":1,"t":30,"v":0.9},
{"p":2,"t":1,"v":1.8},{"p":2,"t":2,"v":2.3},{"p":2,"t":3,"v":1.9},{"p":2,"t":4,"v":2.5},{"p":2,"t":5,"v":2.1},{"p":2,"t":6,"v":1.7},{"p":2,"t":7,"v":2.2},{"p":2,"t":8,"v":2.6},{"p":2,"t":9,"v":2.0},{"p":2,"t":11,"v":2.3},{"p":2,"t":12,"v":1.9},{"p":2,"t":13,"v":2.4},{"p":2,"t":14,"v":2.0},{"p":2,"t":16,"v":2.1},{"p":2,"t":17,"v":1.8},{"p":2,"t":18,"v":2.2},{"p":2,"t":19,"v":1.9},{"p":2,"t":21,"v":2.0},{"p":2,"t":22,"v":1.7},{"p":2,"t":23,"v":2.1},{"p":2,"t":25,"v":1.5},{"p":2,"t":26,"v":1.9},{"p":2,"t":28,"v":1.8},{"p":2,"t":29,"v":1.5},{"p":2,"t":30,"v":1.7},
{"p":3,"t":1,"v":1.3},{"p":3,"t":2,"v":1.6},{"p":3,"t":3,"v":1.4},{"p":3,"t":4,"v":1.7},{"p":3,"t":5,"v":1.5},{"p":3,"t":6,"v":1.8},{"p":3,"t":7,"v":1.4},{"p":3,"t":8,"v":1.6},{"p":3,"t":9,"v":1.9},{"p":3,"t":10,"v":1.5},{"p":3,"t":11,"v":1.7},{"p":3,"t":12,"v":1.4},{"p":3,"t":13,"v":1.6},{"p":3,"t":15,"v":1.7},{"p":3,"t":16,"v":1.5},{"p":3,"t":17,"v":1.3},{"p":3,"t":18,"v":1.6},{"p":3,"t":19,"v":1.4},{"p":3,"t":20,"v":1.5},{"p":3,"t":22,"v":1.5},{"p":3,"t":23,"v":1.2},{"p":3,"t":24,"v":1.4},{"p":3,"t":26,"v":1.5},{"p":3,"t":27,"v":1.2},{"p":3,"t":28,"v":1.4},{"p":3,"t":30,"v":1.3},
{"p":4,"t":1,"v":2.5},{"p":4,"t":2,"v":3.2},{"p":4,"t":3,"v":2.7},{"p":4,"t":4,"v":3.6},{"p":4,"t":5,"v":2.9},{"p":4,"t":6,"v":2.5},{"p":4,"t":7,"v":3.0},{"p":4,"t":8,"v":2.4},{"p":4,"t":9,"v":2.8},{"p":4,"t":10,"v":3.3},{"p":4,"t":11,"v":2.6},{"p":4,"t":12,"v":2.3},{"p":4,"t":13,"v":2.9},{"p":4,"t":14,"v":2.4},{"p":4,"t":15,"v":2.7},{"p":4,"t":17,"v":2.9},{"p":4,"t":18,"v":2.5},{"p":4,"t":19,"v":2.2},{"p":4,"t":20,"v":2.6},{"p":4,"t":21,"v":2.9},{"p":4,"t":22,"v":2.4},{"p":4,"t":24,"v":2.3},{"p":4,"t":25,"v":2.1},{"p":4,"t":26,"v":2.5},{"p":4,"t":27,"v":2.2},{"p":4,"t":28,"v":2.0},{"p":4,"t":29,"v":2.4},{"p":4,"t":30,"v":2.1},
{"p":5,"t":1,"v":0.6},{"p":5,"t":2,"v":0.7},{"p":5,"t":3,"v":0.6},{"p":5,"t":4,"v":0.8},{"p":5,"t":5,"v":0.7},{"p":5,"t":7,"v":0.8},{"p":5,"t":8,"v":0.7},{"p":5,"t":9,"v":0.6},{"p":5,"t":10,"v":0.7},{"p":5,"t":11,"v":0.8},{"p":5,"t":13,"v":0.7},{"p":5,"t":14,"v":0.6},{"p":5,"t":15,"v":0.7},{"p":5,"t":17,"v":0.7},{"p":5,"t":18,"v":0.6},{"p":5,"t":19,"v":0.7},{"p":5,"t":21,"v":0.6},{"p":5,"t":22,"v":0.7},{"p":5,"t":24,"v":0.5},{"p":5,"t":25,"v":0.6},{"p":5,"t":26,"v":0.7},{"p":5,"t":28,"v":0.5},{"p":5,"t":29,"v":0.6},{"p":5,"t":30,"v":0.6},
{"p":6,"t":5,"v":3.0},{"p":6,"t":6,"v":3.9},{"p":6,"t":7,"v":7.3},{"p":6,"t":8,"v":3.6},{"p":6,"t":9,"v":4.2},{"p":6,"t":10,"v":5.3},{"p":6,"t":11,"v":4.4},{"p":6,"t":12,"v":3.5},{"p":6,"t":13,"v":4.1},{"p":6,"t":14,"v":3.3},{"p":6,"t":15,"v":3.8},{"p":6,"t":16,"v":3.1},{"p":6,"t":17,"v":3.6},{"p":6,"t":18,"v":6.5},{"p":6,"t":19,"v":6.0},{"p":6,"t":20,"v":5.1},{"p":6,"t":21,"v":6.4},{"p":6,"t":22,"v":4.0},{"p":6,"t":23,"v":3.4},{"p":6,"t":24,"v":4.2},{"p":6,"t":25,"v":3.6},{"p":6,"t":26,"v":3.0},{"p":6,"t":27,"v":3.5},{"p":6,"t":28,"v":2.9},
{"p":7,"t":14,"v":2.0},{"p":7,"t":15,"v":2.6},{"p":7,"t":16,"v":3.2},{"p":7,"t":17,"v":2.5},{"p":7,"t":18,"v":3.0},{"p":7,"t":19,"v":3.7},{"p":7,"t":20,"v":2.9},{"p":7,"t":21,"v":3.6},{"p":7,"t":22,"v":4.6},{"p":7,"t":23,"v":5.6},{"p":7,"t":24,"v":6.5},{"p":7,"t":25,"v":6.0},{"p":7,"t":26,"v":7.3},{"p":7,"t":27,"v":6.9},
{"p":8,"t":1,"v":1.1},{"p":8,"t":2,"v":1.4},{"p":8,"t":3,"v":1.7},{"p":8,"t":4,"v":2.0},{"p":8,"t":5,"v":1.6},{"p":8,"t":6,"v":2.3},{"p":8,"t":7,"v":1.8},{"p":8,"t":8,"v":2.1},{"p":8,"t":9,"v":1.5},{"p":8,"t":10,"v":1.4},{"p":8,"t":11,"v":1.6},{"p":8,"t":12,"v":1.8},{"p":8,"t":13,"v":1.3},{"p":8,"t":14,"v":1.6},{"p":8,"t":15,"v":1.4},{"p":8,"t":16,"v":1.8},{"p":8,"t":17,"v":2.0},{"p":8,"t":18,"v":1.5},{"p":8,"t":19,"v":1.7},{"p":8,"t":20,"v":1.4},{"p":8,"t":21,"v":1.6},{"p":8,"t":22,"v":1.3},{"p":8,"t":23,"v":1.5},{"p":8,"t":24,"v":1.2},{"p":8,"t":25,"v":1.4},{"p":8,"t":26,"v":1.2},{"p":8,"t":27,"v":1.5},{"p":8,"t":28,"v":1.3},{"p":8,"t":29,"v":1.1},{"p":8,"t":30,"v":1.2},
{"p":9,"t":2,"v":2.0},{"p":9,"t":3,"v":2.6},{"p":9,"t":4,"v":3.1},{"p":9,"t":5,"v":3.7},{"p":9,"t":6,"v":2.8},{"p":9,"t":7,"v":3.4},{"p":9,"t":8,"v":3.9},{"p":9,"t":9,"v":3.2},{"p":9,"t":10,"v":2.7},{"p":9,"t":11,"v":3.1},{"p":9,"t":12,"v":2.6},{"p":9,"t":13,"v":3.0},{"p":9,"t":14,"v":2.7},{"p":9,"t":15,"v":2.3},{"p":9,"t":16,"v":2.8},{"p":9,"t":17,"v":2.4},{"p":9,"t":18,"v":2.0},{"p":9,"t":19,"v":2.4},{"p":9,"t":20,"v":2.1},{"p":9,"t":21,"v":2.4},{"p":9,"t":22,"v":2.2},{"p":9,"t":23,"v":1.9},{"p":9,"t":24,"v":2.3},{"p":9,"t":25,"v":1.9},
{"p":10,"t":1,"v":0.7},{"p":10,"t":2,"v":0.9},{"p":10,"t":3,"v":0.8},{"p":10,"t":4,"v":0.9},{"p":10,"t":5,"v":1.0},{"p":10,"t":6,"v":0.8},{"p":10,"t":7,"v":1.0},{"p":10,"t":8,"v":0.9},{"p":10,"t":9,"v":0.8},{"p":10,"t":10,"v":1.0},{"p":10,"t":11,"v":0.9},{"p":10,"t":12,"v":1.0},{"p":10,"t":13,"v":0.8},{"p":10,"t":14,"v":0.9},{"p":10,"t":15,"v":0.8},{"p":10,"t":16,"v":0.9},{"p":10,"t":17,"v":0.8},{"p":10,"t":18,"v":0.9},{"p":10,"t":19,"v":0.9},{"p":10,"t":20,"v":0.8},{"p":10,"t":21,"v":0.7},{"p":10,"t":22,"v":0.8},{"p":10,"t":23,"v":0.8},{"p":10,"t":24,"v":0.7},{"p":10,"t":25,"v":0.8},{"p":10,"t":26,"v":0.7},{"p":10,"t":27,"v":0.7},{"p":10,"t":28,"v":0.8},{"p":10,"t":29,"v":0.7},{"p":10,"t":30,"v":0.7},
{"p":11,"t":9,"v":2.2},{"p":11,"t":10,"v":2.9},{"p":11,"t":11,"v":3.8},{"p":11,"t":12,"v":4.8},{"p":11,"t":13,"v":3.9},{"p":11,"t":14,"v":3.1},{"p":11,"t":15,"v":4.0},{"p":11,"t":16,"v":3.4},{"p":11,"t":17,"v":2.8},{"p":11,"t":18,"v":3.3},{"p":11,"t":19,"v":2.7},{"p":11,"t":20,"v":3.2},{"p":11,"t":21,"v":2.6},{"p":11,"t":22,"v":3.1},{"p":11,"t":23,"v":2.5},{"p":11,"t":24,"v":2.9},{"p":11,"t":25,"v":3.4},{"p":11,"t":26,"v":2.7},{"p":11,"t":27,"v":2.3},{"p":11,"t":28,"v":2.7},{"p":11,"t":29,"v":2.2},{"p":11,"t":30,"v":2.0},
{"p":12,"t":16,"v":1.0},{"p":12,"t":17,"v":1.3},{"p":12,"t":18,"v":1.2},{"p":12,"t":19,"v":1.4},{"p":12,"t":20,"v":1.1},{"p":12,"t":21,"v":1.2},{"p":12,"t":22,"v":1.4},{"p":12,"t":23,"v":1.0},{"p":12,"t":24,"v":1.1},{"p":12,"t":25,"v":1.2},{"p":12,"t":26,"v":1.0},{"p":12,"t":27,"v":1.1},{"p":12,"t":28,"v":1.0},{"p":12,"t":29,"v":0.9},{"p":12,"t":30,"v":1.0},
{"p":13,"t":1,"v":1.5},{"p":13,"t":2,"v":2.0},{"p":13,"t":3,"v":2.8},{"p":13,"t":4,"v":2.2},{"p":13,"t":5,"v":1.8},{"p":13,"t":6,"v":2.4},{"p":13,"t":7,"v":2.0},{"p":13,"t":8,"v":1.7},{"p":13,"t":9,"v":2.3},{"p":13,"t":10,"v":2.5},{"p":13,"t":11,"v":2.0},{"p":13,"t":12,"v":2.1},{"p":13,"t":13,"v":1.8},{"p":13,"t":14,"v":2.2},{"p":13,"t":15,"v":1.9},{"p":13,"t":16,"v":2.4},{"p":13,"t":17,"v":2.1},
{"p":14,"t":20,"v":1.9},{"p":14,"t":21,"v":2.3},{"p":14,"t":22,"v":2.7},{"p":14,"t":23,"v":2.2},{"p":14,"t":24,"v":2.6},{"p":14,"t":25,"v":2.3},{"p":14,"t":26,"v":2.0},{"p":14,"t":27,"v":2.8},{"p":14,"t":28,"v":2.4},{"p":14,"t":29,"v":2.0},{"p":14,"t":30,"v":1.8},
{"p":15,"t":12,"v":3.6},{"p":15,"t":13,"v":4.5},{"p":15,"t":14,"v":3.8},{"p":15,"t":15,"v":5.1},{"p":15,"t":16,"v":4.3},{"p":15,"t":17,"v":3.7},{"p":15,"t":18,"v":4.6},{"p":15,"t":19,"v":5.3},{"p":15,"t":20,"v":4.2},{"p":15,"t":21,"v":5.0},{"p":15,"t":22,"v":4.4},{"p":15,"t":23,"v":3.8},{"p":15,"t":24,"v":5.4},{"p":15,"t":25,"v":4.6},{"p":15,"t":26,"v":5.2},{"p":15,"t":27,"v":4.0},{"p":15,"t":28,"v":4.7},{"p":15,"t":29,"v":5.2},{"p":15,"t":30,"v":3.9},
{"p":16,"t":2,"v":1.2},{"p":16,"t":3,"v":1.5},{"p":16,"t":4,"v":1.2},{"p":16,"t":5,"v":1.6},{"p":16,"t":6,"v":1.3},{"p":16,"t":7,"v":1.7},{"p":16,"t":8,"v":1.2},{"p":16,"t":9,"v":1.4},{"p":16,"t":10,"v":1.1},{"p":16,"t":11,"v":1.4},{"p":16,"t":12,"v":1.2},{"p":16,"t":13,"v":1.5},{"p":16,"t":14,"v":1.1},{"p":16,"t":15,"v":1.3},{"p":16,"t":16,"v":1.1},{"p":16,"t":17,"v":1.4},{"p":16,"t":18,"v":1.0},{"p":16,"t":19,"v":1.3},{"p":16,"t":20,"v":1.0},{"p":16,"t":21,"v":1.1},
{"p":17,"t":1,"v":1.0},{"p":17,"t":2,"v":1.3},{"p":17,"t":3,"v":1.6},{"p":17,"t":4,"v":1.4},{"p":17,"t":5,"v":1.9},{"p":17,"t":6,"v":1.5},{"p":17,"t":7,"v":1.7},{"p":17,"t":8,"v":1.4},{"p":17,"t":9,"v":1.2},{"p":17,"t":10,"v":1.6},{"p":17,"t":11,"v":1.3},{"p":17,"t":12,"v":1.5},{"p":17,"t":13,"v":1.2},{"p":17,"t":14,"v":1.4},{"p":17,"t":15,"v":1.2},{"p":17,"t":16,"v":1.6},{"p":17,"t":17,"v":1.2},{"p":17,"t":18,"v":1.4},{"p":17,"t":19,"v":1.1},{"p":17,"t":20,"v":1.3},{"p":17,"t":21,"v":1.5},{"p":17,"t":22,"v":1.2},{"p":17,"t":23,"v":1.3},{"p":17,"t":24,"v":1.1},{"p":17,"t":25,"v":1.3},{"p":17,"t":26,"v":1.1},{"p":17,"t":27,"v":1.3},{"p":17,"t":28,"v":1.2},{"p":17,"t":29,"v":1.0},{"p":17,"t":30,"v":1.1},
{"p":18,"t":1,"v":2.1},{"p":18,"t":2,"v":2.7},{"p":18,"t":3,"v":2.3},{"p":18,"t":4,"v":2.9},{"p":18,"t":5,"v":2.4},{"p":18,"t":6,"v":3.2},{"p":18,"t":7,"v":2.6},{"p":18,"t":8,"v":2.2},{"p":18,"t":9,"v":2.6},{"p":18,"t":10,"v":2.2},{"p":18,"t":11,"v":2.5},{"p":18,"t":12,"v":2.2},{"p":18,"t":13,"v":2.6},{"p":18,"t":14,"v":2.3},{"p":18,"t":15,"v":2.1},{"p":18,"t":16,"v":2.5},{"p":18,"t":17,"v":2.2},{"p":18,"t":18,"v":2.6},{"p":18,"t":19,"v":2.1},{"p":18,"t":20,"v":2.4},{"p":18,"t":21,"v":2.1},{"p":18,"t":22,"v":2.5},{"p":18,"t":23,"v":2.2},{"p":18,"t":24,"v":2.0},
{"p":19,"t":1,"v":0.8},{"p":19,"t":2,"v":1.0},{"p":19,"t":3,"v":1.2},{"p":19,"t":4,"v":1.0},{"p":19,"t":5,"v":1.3},{"p":19,"t":6,"v":1.0},{"p":19,"t":7,"v":1.1},{"p":19,"t":8,"v":1.3},{"p":19,"t":9,"v":1.1},{"p":19,"t":10,"v":1.2},{"p":19,"t":11,"v":1.0},{"p":19,"t":12,"v":1.1},{"p":19,"t":13,"v":1.3},{"p":19,"t":14,"v":1.0},{"p":19,"t":15,"v":1.1},{"p":19,"t":16,"v":1.3},{"p":19,"t":17,"v":1.1},{"p":19,"t":18,"v":1.3},{"p":19,"t":19,"v":1.1},{"p":19,"t":20,"v":1.0},{"p":19,"t":21,"v":1.2},{"p":19,"t":22,"v":1.1},{"p":19,"t":23,"v":0.9},{"p":19,"t":24,"v":1.0},{"p":19,"t":25,"v":1.1},{"p":19,"t":26,"v":0.9},{"p":19,"t":27,"v":1.0},{"p":19,"t":28,"v":1.1},{"p":19,"t":29,"v":0.9},{"p":19,"t":30,"v":1.0},
{"p":20,"t":3,"v":3.2},{"p":20,"t":4,"v":4.1},{"p":20,"t":5,"v":3.4},{"p":20,"t":6,"v":4.6},{"p":20,"t":7,"v":3.9},{"p":20,"t":8,"v":3.1},{"p":20,"t":9,"v":3.6},{"p":20,"t":10,"v":4.3},{"p":20,"t":11,"v":3.5},{"p":20,"t":12,"v":2.9},{"p":20,"t":13,"v":3.4},{"p":20,"t":14,"v":2.8},{"p":20,"t":15,"v":3.3},{"p":20,"t":16,"v":2.7},
{"p":21,"t":17,"v":3.9},{"p":21,"t":18,"v":4.5},{"p":21,"t":19,"v":3.6},{"p":21,"t":20,"v":4.0},{"p":21,"t":21,"v":3.4},{"p":21,"t":22,"v":5.0},{"p":21,"t":23,"v":4.2},{"p":21,"t":24,"v":3.6},{"p":21,"t":25,"v":4.1},{"p":21,"t":26,"v":3.5},{"p":21,"t":27,"v":3.0},{"p":21,"t":28,"v":3.7},{"p":21,"t":29,"v":3.2},{"p":21,"t":30,"v":2.9},
{"p":22,"t":1,"v":1.6},{"p":22,"t":2,"v":1.9},{"p":22,"t":3,"v":2.2},{"p":22,"t":4,"v":1.8},{"p":22,"t":5,"v":2.2},{"p":22,"t":6,"v":1.9},{"p":22,"t":7,"v":2.4},{"p":22,"t":8,"v":1.9},{"p":22,"t":9,"v":1.7},{"p":22,"t":10,"v":2.1},{"p":22,"t":11,"v":1.8},{"p":22,"t":12,"v":2.0},{"p":22,"t":13,"v":1.7},{"p":22,"t":14,"v":1.9},{"p":22,"t":15,"v":2.2},{"p":22,"t":16,"v":1.8},{"p":22,"t":17,"v":1.6},{"p":22,"t":18,"v":1.9},{"p":22,"t":19,"v":1.7},{"p":22,"t":20,"v":2.0},{"p":22,"t":21,"v":1.8},{"p":22,"t":22,"v":1.6},{"p":22,"t":23,"v":1.8},{"p":22,"t":24,"v":1.6},{"p":22,"t":25,"v":1.8},{"p":22,"t":26,"v":1.6},{"p":22,"t":27,"v":1.8},{"p":22,"t":28,"v":1.6},{"p":22,"t":29,"v":1.7},{"p":22,"t":30,"v":1.5},
{"p":23,"t":10,"v":1.3},{"p":23,"t":11,"v":1.6},{"p":23,"t":12,"v":1.9},{"p":23,"t":13,"v":2.2},{"p":23,"t":14,"v":1.8},{"p":23,"t":15,"v":1.5},{"p":23,"t":16,"v":1.9},{"p":23,"t":17,"v":1.6},{"p":23,"t":18,"v":1.8},{"p":23,"t":19,"v":2.1},{"p":23,"t":20,"v":1.8},{"p":23,"t":21,"v":1.5},{"p":23,"t":22,"v":1.9},{"p":23,"t":23,"v":1.6},{"p":23,"t":24,"v":1.9},{"p":23,"t":25,"v":1.7},{"p":23,"t":26,"v":1.5},{"p":23,"t":27,"v":1.7},{"p":23,"t":28,"v":2.0},{"p":23,"t":29,"v":1.6},{"p":23,"t":30,"v":1.4},
{"p":24,"t":1,"v":1.2},{"p":24,"t":2,"v":1.5},{"p":24,"t":3,"v":1.9},{"p":24,"t":4,"v":2.4},{"p":24,"t":5,"v":2.0},{"p":24,"t":6,"v":2.7},{"p":24,"t":7,"v":2.2},{"p":24,"t":8,"v":1.8},{"p":24,"t":9,"v":2.1},{"p":24,"t":10,"v":1.7},{"p":24,"t":11,"v":2.0},{"p":24,"t":12,"v":2.4},{"p":24,"t":13,"v":2.0},{"p":24,"t":14,"v":1.7},{"p":24,"t":15,"v":2.0},{"p":24,"t":16,"v":1.6},{"p":24,"t":17,"v":1.9},{"p":24,"t":18,"v":1.7}
],
"b": [
{"c":"S1","t":1,"m":1.26,"lo":1.23,"hi":1.29},{"c":"S1","t":2,"m":1.43,"lo":1.40,"hi":1.45},{"c":"S1","t":3,"m":1.50,"lo":1.48,"hi":1.52},{"c":"S1","t":4,"m":1.51,"lo":1.49,"hi":1.53},{"c":"S1","t":5,"m":1.52,"lo":1.50,"hi":1.55},{"c":"S1","t":6,"m":1.52,"lo":1.49,"hi":1.54},{"c":"S1","t":7,"m":1.55,"lo":1.52,"hi":1.58},{"c":"S1","t":8,"m":1.57,"lo":1.54,"hi":1.60},{"c":"S1","t":9,"m":1.60,"lo":1.56,"hi":1.64},{"c":"S1","t":10,"m":1.59,"lo":1.55,"hi":1.62},{"c":"S1","t":11,"m":1.63,"lo":1.59,"hi":1.68},{"c":"S1","t":12,"m":1.59,"lo":1.54,"hi":1.63},{"c":"S1","t":13,"m":1.57,"lo":1.53,"hi":1.62},{"c":"S1","t":14,"m":1.60,"lo":1.55,"hi":1.65},{"c":"S1","t":15,"m":1.59,"lo":1.53,"hi":1.65},{"c":"S1","t":16,"m":1.65,"lo":1.59,"hi":1.70},{"c":"S1","t":17,"m":1.61,"lo":1.54,"hi":1.67},{"c":"S1","t":18,"m":1.63,"lo":1.56,"hi":1.70},{"c":"S1","t":19,"m":1.60,"lo":1.53,"hi":1.66},{"c":"S1","t":20,"m":1.60,"lo":1.52,"hi":1.66},{"c":"S1","t":21,"m":1.65,"lo":1.57,"hi":1.72},{"c":"S1","t":22,"m":1.66,"lo":1.56,"hi":1.74},{"c":"S1","t":23,"m":1.69,"lo":1.61,"hi":1.77},{"c":"S1","t":24,"m":1.71,"lo":1.60,"hi":1.81},{"c":"S1","t":25,"m":1.72,"lo":1.63,"hi":1.82},{"c":"S1","t":26,"m":1.73,"lo":1.62,"hi":1.85},{"c":"S1","t":27,"m":1.57,"lo":1.48,"hi":1.66},{"c":"S1","t":28,"m":1.57,"lo":1.49,"hi":1.67},{"c":"S1","t":29,"m":1.58,"lo":1.49,"hi":1.66},{"c":"S1","t":30,"m":1.56,"lo":1.47,"hi":1.66},
{"c":"S2","t":1,"m":1.25,"lo":1.22,"hi":1.28},{"c":"S2","t":2,"m":1.56,"lo":1.52,"hi":1.59},{"c":"S2","t":3,"m":1.69,"lo":1.65,"hi":1.72},{"c":"S2","t":4,"m":1.78,"lo":1.74,"hi":1.82},{"c":"S2","t":5,"m":1.84,"lo":1.80,"hi":1.87},{"c":"S2","t":6,"m":1.88,"lo":1.84,"hi":1.91},{"c":"S2","t":7,"m":1.93,"lo":1.89,"hi":1.98},{"c":"S2","t":8,"m":1.91,"lo":1.87,"hi":1.96},{"c":"S2","t":9,"m":1.87,"lo":1.82,"hi":1.92},{"c":"S2","t":10,"m":1.89,"lo":1.83,"hi":1.94},{"c":"S2","t":11,"m":1.86,"lo":1.79,"hi":1.92},{"c":"S2","t":12,"m":1.81,"lo":1.74,"hi":1.87},{"c":"S2","t":13,"m":1.76,"lo":1.68,"hi":1.82},{"c":"S2","t":14,"m":1.75,"lo":1.67,"hi":1.82},{"c":"S2","t":15,"m":1.75,"lo":1.67,"hi":1.82},{"c":"S2","t":16,"m":1.69,"lo":1.61,"hi":1.77},{"c":"S2","t":17,"m":1.68,"lo":1.60,"hi":1.77},{"c":"S2","t":18,"m":1.68,"lo":1.59,"hi":1.76},{"c":"S2","t":19,"m":1.66,"lo":1.56,"hi":1.75},{"c":"S2","t":20,"m":1.67,"lo":1.56,"hi":1.76},{"c":"S2","t":21,"m":1.66,"lo":1.57,"hi":1.76},{"c":"S2","t":22,"m":1.67,"lo":1.57,"hi":1.77},{"c":"S2","t":23,"m":1.62,"lo":1.52,"hi":1.74},{"c":"S2","t":24,"m":1.61,"lo":1.50,"hi":1.72},{"c":"S2","t":25,"m":1.64,"lo":1.52,"hi":1.75},{"c":"S2","t":26,"m":1.59,"lo":1.48,"hi":1.71},{"c":"S2","t":27,"m":1.64,"lo":1.52,"hi":1.77},{"c":"S2","t":28,"m":1.58,"lo":1.49,"hi":1.70},{"c":"S2","t":29,"m":1.71,"lo":1.59,"hi":1.84},{"c":"S2","t":30,"m":1.68,"lo":1.53,"hi":1.83},
{"c":"S3","t":1,"m":1.17,"lo":1.13,"hi":1.21},{"c":"S3","t":2,"m":1.56,"lo":1.52,"hi":1.61},{"c":"S3","t":3,"m":2.20,"lo":2.12,"hi":2.28},{"c":"S3","t":4,"m":2.58,"lo":2.50,"hi":2.66},{"c":"S3","t":5,"m":2.81,"lo":2.73,"hi":2.89},{"c":"S3","t":6,"m":2.96,"lo":2.87,"hi":3.05},{"c":"S3","t":7,"m":3.05,"lo":2.94,"hi":3.15},{"c":"S3","t":8,"m":2.99,"lo":2.87,"hi":3.12},{"c":"S3","t":9,"m":2.90,"lo":2.78,"hi":3.04},{"c":"S3","t":10,"m":2.82,"lo":2.69,"hi":2.95},{"c":"S3","t":11,"m":2.53,"lo":2.41,"hi":2.66},{"c":"S3","t":12,"m":2.41,"lo":2.28,"hi":2.53},{"c":"S3","t":13,"m":2.32,"lo":2.19,"hi":2.45},{"c":"S3","t":14,"m":2.21,"lo":2.08,"hi":2.33},{"c":"S3","t":15,"m":2.21,"lo":2.06,"hi":2.36},{"c":"S3","t":16,"m":2.12,"lo":1.98,"hi":2.25},{"c":"S3","t":17,"m":2.19,"lo":2.04,"hi":2.34},{"c":"S3","t":18,"m":2.13,"lo":1.98,"hi":2.27},{"c":"S3","t":19,"m":2.18,"lo":2.04,"hi":2.36},{"c":"S3","t":20,"m":2.16,"lo":1.99,"hi":2.33},{"c":"S3","t":21,"m":2.23,"lo":2.05,"hi":2.42},{"c":"S3","t":22,"m":2.23,"lo":2.01,"hi":2.45},{"c":"S3","t":23,"m":2.23,"lo":2.01,"hi":2.46},{"c":"S3","t":24,"m":2.19,"lo":1.96,"hi":2.43},{"c":"S3","t":25,"m":2.11,"lo":1.89,"hi":2.34},{"c":"S3","t":26,"m":2.08,"lo":1.85,"hi":2.30},{"c":"S3","t":27,"m":2.14,"lo":1.92,"hi":2.38},{"c":"S3","t":28,"m":2.33,"lo":2.06,"hi":2.59},{"c":"S3","t":29,"m":1.96,"lo":1.76,"hi":2.17},{"c":"S3","t":30,"m":1.94,"lo":1.72,"hi":2.18},
{"c":"S4","t":1,"m":4.95,"lo":4.84,"hi":5.05},{"c":"S4","t":2,"m":4.92,"lo":4.82,"hi":5.02},{"c":"S4","t":3,"m":4.67,"lo":4.55,"hi":4.78},{"c":"S4","t":4,"m":4.51,"lo":4.39,"hi":4.63},{"c":"S4","t":5,"m":4.30,"lo":4.20,"hi":4.41},{"c":"S4","t":6,"m":4.07,"lo":3.93,"hi":4.18},{"c":"S4","t":7,"m":3.89,"lo":3.75,"hi":4.02},{"c":"S4","t":8,"m":3.74,"lo":3.58,"hi":3.90},{"c":"S4","t":9,"m":3.70,"lo":3.54,"hi":3.86},{"c":"S4","t":10,"m":3.65,"lo":3.49,"hi":3.81},{"c":"S4","t":11,"m":3.50,"lo":3.34,"hi":3.66},{"c":"S4","t":12,"m":3.54,"lo":3.37,"hi":3.71},{"c":"S4","t":13,"m":3.63,"lo":3.45,"hi":3.82},{"c":"S4","t":14,"m":3.56,"lo":3.37,"hi":3.75},{"c":"S4","t":15,"m":3.53,"lo":3.35,"hi":3.72},{"c":"S4","t":16,"m":3.35,"lo":3.15,"hi":3.55},{"c":"S4","t":17,"m":3.33,"lo":3.13,"hi":3.54},{"c":"S4","t":18,"m":3.13,"lo":2.94,"hi":3.34},{"c":"S4","t":19,"m":3.12,"lo":2.90,"hi":3.34},{"c":"S4","t":20,"m":3.21,"lo":2.99,"hi":3.42},{"c":"S4","t":21,"m":3.07,"lo":2.84,"hi":3.30},{"c":"S4","t":22,"m":3.02,"lo":2.81,"hi":3.24},{"c":"S4","t":23,"m":3.07,"lo":2.84,"hi":3.30},{"c":"S4","t":24,"m":3.02,"lo":2.79,"hi":3.26},{"c":"S4","t":25,"m":2.82,"lo":2.59,"hi":3.07},{"c":"S4","t":26,"m":2.82,"lo":2.55,"hi":3.10},{"c":"S4","t":27,"m":2.63,"lo":2.41,"hi":2.87},{"c":"S4","t":28,"m":2.61,"lo":2.38,"hi":2.85},{"c":"S4","t":29,"m":2.35,"lo":2.14,"hi":2.57},{"c":"S4","t":30,"m":2.63,"lo":2.36,"hi":2.92}
]
},
"hconcat": [
{
 "width": 497, "height": 436,
 "title": {"text": "a", "anchor": "start", "frame": "bounds", "fontSize": 15, "fontWeight": "bold", "color": "#000000", "offset": -17},
 "encoding": {
  "x": {"field": "t", "type": "quantitative", "scale": {"domain": [-0.45, 31.45], "nice": false, "zero": false}, "axis": {"title": "Time (days)", "values": [0,5,10,15,20,25,30], "labelExpr": "datum.value % 10 === 0 ? datum.label : ''", "tickOpacity": {"condition": {"test": "datum.value % 10 !== 0", "value": 0}, "value": 1}, "gridWidth": {"condition": {"test": "datum.value % 10 !== 0", "value": 0.6}, "value": 1.2}}},
  "y": {"field": "v", "type": "quantitative", "scale": {"domain": [-0.5, 16.9], "nice": false, "zero": false}, "axis": {"title": "Creatinine Value", "values": [0,2.5,5,7.5,10,12.5,15], "labelExpr": "datum.value % 5 === 0 ? format(datum.value, 'd') : ''", "tickOpacity": {"condition": {"test": "datum.value % 5 !== 0", "value": 0}, "value": 1}, "gridWidth": {"condition": {"test": "datum.value % 5 !== 0", "value": 0.6}, "value": 1.2}}},
  "detail": {"field": "p", "type": "nominal"}
 },
 "layer": [
  {"data": {"name": "s3"}, "mark": {"type": "line", "strokeWidth": 1.2, "opacity": 0.8},
   "encoding": {"color": {"datum": "Stage−3 AKI", "type": "nominal", "scale": {"domain": ["Stage−1 AKI", "Stage−2 AKI", "Stage−3 AKI"], "range": ["#4682B4", "#00EE00", "#FF8C00"]},
    "legend": {"orient": "none", "legendX": 352, "legendY": 7, "title": "Stage of AKI", "titleFontSize": 12, "titleFontWeight": "normal", "titleColor": "#000000", "labelFontSize": 17, "labelColor": "#000000", "symbolType": "stroke", "symbolSize": 256, "symbolStrokeWidth": 1.2, "strokeColor": "#000000", "fillColor": "#FFFFFF", "padding": 7, "rowPadding": 1, "titlePadding": 5, "labelOffset": 8}}}},
  {"data": {"name": "s1"}, "mark": {"type": "line", "strokeWidth": 1.2, "opacity": 0.85},
   "encoding": {"color": {"datum": "Stage−1 AKI", "type": "nominal"}}},
  {"data": {"name": "s2"}, "mark": {"type": "line", "strokeWidth": 1.2, "opacity": 0.7},
   "encoding": {"color": {"datum": "Stage−2 AKI", "type": "nominal"}}}
 ]
},
{
 "width": 510, "height": 436,
 "title": {"text": "b", "anchor": "start", "frame": "bounds", "fontSize": 15, "fontWeight": "bold", "color": "#000000", "offset": -17},
 "data": {"name": "b"},
 "encoding": {
  "x": {"field": "t", "type": "quantitative", "scale": {"domain": [-0.45, 31.45], "nice": false, "zero": false}, "axis": {"title": "Time (days)", "values": [0,5,10,15,20,25,30], "labelExpr": "datum.value % 10 === 0 ? datum.label : ''", "tickOpacity": {"condition": {"test": "datum.value % 10 !== 0", "value": 0}, "value": 1}, "gridWidth": {"condition": {"test": "datum.value % 10 !== 0", "value": 0.6}, "value": 1.2}}}
 },
 "layer": [
  {"mark": {"type": "area", "fill": "#B3B3B3", "opacity": 0.55},
   "encoding": {"y": {"field": "lo", "type": "quantitative", "scale": {"domain": [0.94, 5.26], "nice": false, "zero": false}, "axis": {"title": "Average SCs Value", "values": [1,1.5,2,2.5,3,3.5,4,4.5,5], "labelExpr": "datum.value % 1 === 0 ? format(datum.value, 'd') : ''", "tickOpacity": {"condition": {"test": "datum.value % 1 !== 0", "value": 0}, "value": 1}, "gridWidth": {"condition": {"test": "datum.value % 1 !== 0", "value": 0.6}, "value": 1.2}}}, "y2": {"field": "hi"}, "detail": {"field": "c", "type": "nominal"}}},
  {"mark": {"type": "line", "strokeWidth": 1.1},
   "encoding": {"y": {"field": "hi", "type": "quantitative"}, "color": {"field": "c", "type": "nominal", "scale": {"domain": ["S1","S2","S3","S4"], "range": ["#FF7F0E", "#1F77B4", "#2CA02C", "#9467BD"]},
    "legend": {"orient": "none", "legendX": 437, "legendY": 6, "title": "Category", "titleFontSize": 12, "titleFontWeight": "normal", "titleColor": "#000000", "labelFontSize": 17, "labelColor": "#000000", "symbolType": "M-1,-1L1,-1L1,1L-1,1Z M-1,0L1,0", "symbolSize": 289, "symbolStrokeWidth": 1.2, "strokeColor": "#000000", "fillColor": "#FFFFFF", "padding": 5, "rowPadding": 2, "titlePadding": 5, "labelOffset": 6,
     "encode": {"symbols": {"update": {"fill": {"value": "#D6D6D6"}, "opacity": {"value": 1}}}}}}}},
  {"mark": {"type": "line", "strokeWidth": 1.1},
   "encoding": {"y": {"field": "lo", "type": "quantitative"}, "color": {"field": "c", "type": "nominal"}}},
  {"mark": {"type": "line", "strokeWidth": 1.1},
   "encoding": {"y": {"field": "m", "type": "quantitative"}, "color": {"field": "c", "type": "nominal"}}}
 ]
}
]
}
